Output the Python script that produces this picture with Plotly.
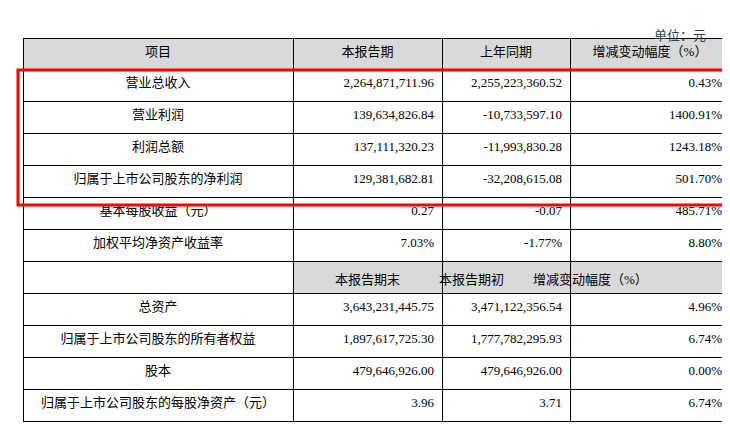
import plotly.graph_objects as go

header = ["项目", "本报告期", "上年同期", "增减变动幅度（%）"]
header2 = ["本报告期末", "本报告期初", "增减变动幅度（%）"]
items = ["营业总收入", "营业利润", "利润总额", "归属于上市公司股东的净利润",
         "基本每股收益（元）", "加权平均净资产收益率", "",
         "总资产", "归属于上市公司股东的所有者权益", "股本",
         "归属于上市公司股东的每股净资产（元）"]
col_current = ["2,264,871,711.96", "139,634,826.84", "137,111,320.23", "129,381,682.81",
               "0.27", "7.03%", "", "3,643,231,445.75", "1,897,617,725.30",
               "479,646,926.00", "3.96"]
col_prior = ["2,255,223,360.52", "-10,733,597.10", "-11,993,830.28", "-32,208,615.08",
             "-0.07", "-1.77%", "", "3,471,122,356.54", "1,777,782,295.93",
             "479,646,926.00", "3.71"]
col_change = ["0.43%", "1400.91%", "1243.18%", "501.70%", "485.71%", "8.80%",
              "", "4.96%", "6.74%", "0.00%", "6.74%"]

gray = "#d9d9d9"
n = len(items)
fills = [["white"] * n] + [["white" if i != 6 else gray for i in range(n)] for _ in range(3)]

font = dict(family="Liberation Serif, Noto Sans CJK SC", size=13, color="black")
fig = go.Figure(go.Table(
    columnwidth=[270, 149, 128, 160],
    header=dict(values=header, fill_color=gray, line_color="black", align="center",
                font=font, height=31),
    cells=dict(values=[items, col_current, col_prior, col_change], fill_color=fills,
               line_color="black", align=["center", "right", "right", "right"],
               font=font, height=32),
    domain=dict(x=[15/730, 722/730], y=[0, 1-30/428]),
))
for label, cx in zip(header2, [359.5, 498, 642]):
    fig.add_annotation(text=label, x=cx/730, y=1-271/428, xref="paper", yref="paper",
                       showarrow=False, font=font)
fig.add_annotation(text="单位：元", x=700/730, y=1-15/428, xref="paper", yref="paper",
                   showarrow=False, font=dict(family="Noto Sans CJK SC", size=13), xanchor="right")
fig.add_shape(type="rect", xref="paper", yref="paper", x0=10/730, x1=727/730,
              y0=1-197/428, y1=1-62/428, line=dict(color="red", width=3))
fig.update_layout(width=730, height=428, margin=dict(l=0, r=0, t=0, b=0),
                  paper_bgcolor="white")
fig.write_html("out.html")
